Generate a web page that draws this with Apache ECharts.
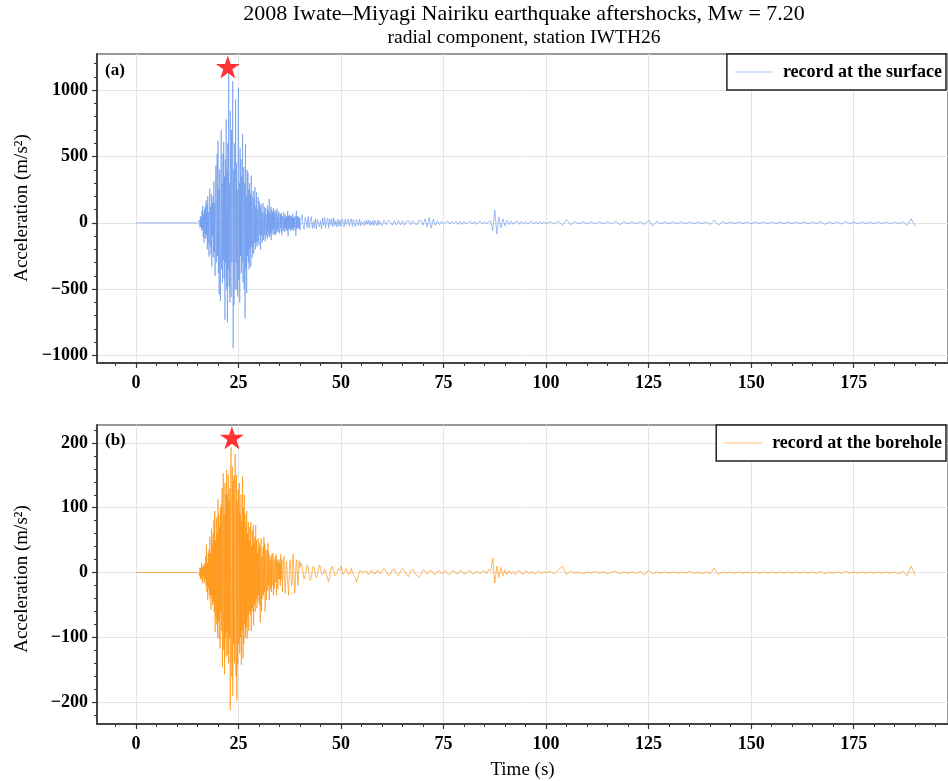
<!DOCTYPE html>
<html><head><meta charset="utf-8">
<script src="https://cdn.jsdelivr.net/npm/echarts@6/dist/echarts.min.js"></script>
<style>html,body{margin:0;padding:0;background:#fff}#chart{width:948px;height:781px}</style>
</head><body><div id="chart"></div>
<script>
const titleLines = ['2008 Iwate\u2013Miyagi Nairiku earthquake aftershocks, Mw = 7.20', 'radial component, station IWTH26'];
const surfaceName = 'record at the surface';
const boreholeName = 'record at the borehole';
const yName = 'Acceleration (m/s\u00B2)';
const xName = 'Time (s)';
const panelLabels = ['(a)', '(b)'];

const timeTicks = [0, 25, 50, 75, 100, 125, 150, 175];
const timeMinorTicks = [-5, 5, 10, 15, 20, 30, 35, 40, 45, 55, 60, 65, 70, 80, 85, 90, 95, 105, 110, 115, 120, 130, 135, 140, 145, 155, 160, 165, 170, 180, 185, 190, 195];
const surfaceTicks = [-1000, -500, 0, 500, 1000];
const surfaceMinorTicks = [-1000, -900, -800, -700, -600, -500, -400, -300, -200, -100, 0, 100, 200, 300, 400, 500, 600, 700, 800, 900, 1000, 1100, 1200];
const boreholeTicks = [-200, -100, 0, 100, 200];
const boreholeMinorTicks = [-220, -200, -180, -160, -140, -120, -100, -80, -60, -40, -20, 0, 20, 40, 60, 80, 100, 120, 140, 160, 180, 200, 220];

// record: flat from recordStart, then sampled segments [start time (s), sample step (s)]
const recordStart = 0;
const segStarts = [15, 40, 60, 100];
const segSteps = [0.1, 0.25, 0.5, 1];

// surface record, one row = 1 s at 0.1 s (15.0 - 39.9 s)
const surfaceS1 = [
  0, 0, 0, 0, 0, 20, -35, 50, -30, 40,
  -60, 90, -45, 130, -110, 70, -150, 100, -80, 120,
  -120, 170, -90, 140, -200, 200, -150, 80, -255, 180,
  257, -180, 120, -240, 220, -330, 150, -100, 200, -260,
  310, -220, 150, -400, 260, 430, -300, 180, 520, -250,
  620, -380, 250, -540, 400, -200, -590, 450, 700, -350,
  300, -455, 520, -280, 610, -420, 350, -730, 480, -300,
  780, -500, 400, -750, 600, -350, 1120, -480, 300, -600,
  845, -400, -560, 700, -300, 500, 1068, -945, 400, -620,
  600, -350, -500, 930, -300, 450, -505, 250, -555, 700,
  1017, -430, 300, -600, 560, -250, 480, -380, 350, -300,
  670, -450, 250, 420, -500, 300, -720, 595, -350, 200,
  -530, 400, -250, 380, -300, 250, -350, 300, -200, 220,
  -330, 357, -180, 200, -260, 150, 240, -230, 180, -150,
  270, -200, 120, -150, 230, -180, 100, -140, 195, -120,
  -170, 160, -90, 120, -205, 140, -100, 80, -150, 110,
  150, -130, 70, -90, 120, -140, 80, 110, -100, 60,
  -120, 130, -60, 90, -100, 180, -110, 70, -80, 120,
  -130, 100, -60, 80, -90, 110, -50, 70, -85, 95,
  -93, 60, 80, -75, 107, -50, 40, -70, 85, -60,
  -80, 70, -40, 60, -65, 75, -90, 50, 60, -60,
  80, -50, 40, -70, 65, -40, 50, -55, 45, -60,
  90, -100, 50, -40, 60, -50, 55, -60, 40, -45,
  50, -55, 70, -40, 35, -60, 45, -35, 50, -40,
  -100, 90, -50, 45, -40, 50, -35, 40, -45, 38
];
// 40 - 59.75 s at 0.25 s
const surfaceS2 = [
  -55, 30, 60, -20, -50, 40, 15, -35,
  48, -40, 20, 45, -42, 10, -38, 30,
  -45, 25, 40, -30, 15, -45, 35, -20,
  42, -38, 10, 35, -40, 28, -15, 32,
  -30, 36, -20, 15, -32, 30, -25, 20,
  -28, 30, 10, -32, 26, -15, -30, 28,
  -25, 12, 30, -27, 24, -10, -28, 25,
  18, -22, 26, -24, 10, 22, -20, 15,
  -18, 20, -10, 22, -20, 12, -16, 18,
  -22, 18, 8, -20, 22, -17, 10, 19
];
// 60 - 99.5 s at 0.5 s
const surfaceS3 = [
  -21, 18, -16, 20, 8, -18, 15, -17, 18, -15,
  16, -18, 10, 15, -14, 17, -8, -15, 20, 12,
  -18, 30, -30, 42, -40, 28, -20, 15, -14, 12,
  -12, 5, 13, -11, 12, -6, 12, -11, 10, -12,
  11, -10, 4, 12, -9, 11, -12, 6, 10, -9,
  11, -10, 9, 15, -60, 95, -85, 45, -38, 30,
  -25, 20, -15, 13, -12, 6, 11, -10, 12, -11,
  10, -9, 5, 11, -10, 9, -11, 10, -9, 10
];
// 100 - 190 s at 1 s
const surfaceS4 = [
  -8, 9, -10, 12, -20, 25, -15, 9, -8, 9,
  -8, 7, -8, 9, -7, 8, -9, 14, -15, 9,
  -7, 8, -7, 8, -12, 22, -25, 12, -8, 7,
  -6, 7, -6, 7, -6, 6, -7, 6, -6, 7,
  -12, 20, -18, 8, -6, 6, -5, 6, -5, 6,
  -6, 5, -5, 6, -5, 6, -5, 5, -6, 5,
  -5, 6, -5, 5, -6, 5, -6, 10, -12, 7,
  -6, 7, -10, 12, -7, 6, -6, 7, -6, 6,
  -6, 7, -6, 6, -7, 6, -7, 8, -20, 30,
  -25
];

// borehole record, same segments
const boreholeS1 = [
  0, 0, 0, 0, 3, -5, 8, -10, 6, -8,
  15, -12, 8, -17, 12, -6, 10, -15, 14, -10,
  25, -20, 43, -30, 15, -42, 30, -25, 35, -35,
  55, -40, 30, -57, 68, -35, 45, -50, 60, -45,
  80, -60, 95, -92, 50, -70, 85, -80, 60, -100,
  113, -75, 90, -102, 70, -117, 100, -60, 105, -90,
  130, -145, 80, 153, -120, 90, -157, 138, -100, 120,
  -130, 158, -90, 120, -127, 150, -140, 110, -100, 130,
  -212, 170, 193, -120, -160, 163, -190, 140, -110, 150,
  -140, 120, 183, -100, -160, 150, -197, 110, -142, 128,
  100, -110, 138, -125, 90, -100, 120, -142, 80, -90,
  148, -132, 100, -110, 120, -80, 90, -100, 70, -85,
  95, -102, 60, -70, 78, -90, 50, -60, 70, -65,
  78, -90, 40, -55, 65, -60, 73, -82, 45, -50,
  55, -60, 73, -40, 50, -55, 30, -45, 53, -35,
  40, -50, 45, -77, 35, 53, -60, 25, -40, 30,
  40, -35, 55, -30, 45, -60, 20, 35, -42, 25,
  35, -28, 45, -20, 30, -42, 15, 25, -25, 20,
  -30, 28, -20, 15, 30, -35, 10, 20, -25, 15,
  25, -15, 28, -35, 10, 20, -25, 15, -10, 20,
  -10, 15, -20, 28, -12, 10, 20, -30, -15, 5,
  20, 25, -10, -20, -32, -15, 10, 18, 8, -5,
  -15, -25, -35, -20, 5, 15, 20, 10, -5, -15,
  -20, -10, 15, 28, 20, 5, -20, -32, -25, -8,
  10, 20, 15, 5, -10, -20, -12, 5, 18, 12
];
const boreholeS2 = [
  8, 15, 10, -2, -10, -8, 2, 12,
  8, -5, -12, -8, 3, 10, 6, -4,
  -8, -5, 4, 12, 8, -3, -6, -2,
  5, 3, -4, -10, -14, -6, 5, 10,
  7, 2, -5, -8, -2, 6, 8, 3,
  10, 4, -3, -5, 2, 6, 4, -3,
  -6, -2, 7, 4, -3, -6, -8, -15,
  -10, -4, 2, 5, 3, -1, -3, 2,
  4, 2, -3, -5, -2, 3, 5, 2,
  -2, -4, -1, 3, 5, 2, -2, -4
];
const boreholeS3 = [
  3, 6, 2, -4, -3, 4, 5, -2, -5, 2,
  6, 3, -4, -6, 3, 5, -1, -5, -8, -3,
  4, 3, -3, 2, 3, -2, -3, 2, 3, -2,
  1, 3, -2, -3, 2, 3, -1, -2, 3, 2,
  -2, -1, 2, 3, -2, -2, 2, 1, -2, 2,
  3, -2, 5, 2, 22, -16, 10, -8, 8, -5,
  4, -3, 3, -2, 2, -3, 2, 3, -2, -2,
  2, 1, -2, 2, -1, -2, 2, 1, -2, 2
];
const boreholeS4 = [
  -1, 2, -2, 4, 10, -3, 2, -1, 1, -2,
  1, -1, 2, -1, 1, -2, 1, 2, -2, 1,
  -1, 1, -1, 2, -4, 4, -2, 1, -1, 1,
  -1, 1, -1, 1, -1, 2, -1, 1, -2, 1,
  -2, 7, -3, 1, -1, 1, -1, 1, -1, 1,
  -1, 1, -1, 1, -1, 1, -1, 1, -1, 1,
  -1, 1, -1, 1, -1, 1, -1, 2, -2, 1,
  -1, 1, -1, 2, -1, 1, -1, 1, -1, 1,
  -1, 1, -1, 1, -1, 1, -2, 2, -5, 10,
  -4
];
// peak markers [time, acceleration]
const surfacePeak = [22.4, 1175];
const boreholePeak = [23.4, 208];

function buildRecord(segments) {
  const out = [[recordStart, 0]];
  segments.forEach((seg, k) => seg.forEach((v, i) => out.push([+(segStarts[k] + i * segSteps[k]).toFixed(2), v])));
  return out;
}

const FONT = '"Liberation Serif", "Times New Roman", serif';
const STAR = 'path://M50,0 L61.8,35.4 L100,35.4 L69.1,57.3 L80.9,95.1 L50,72.4 L19.1,95.1 L30.9,57.3 L0,35.4 L38.2,35.4 Z';
const fmt = v => v < 0 ? '\u2212' + Math.abs(v) : String(v);

function xAxes(grid, withName) {
  return [{
    gridIndex: grid, type: 'value', min: -9.5, max: 198, position: 'bottom',
    name: withName ? xName : '', nameLocation: 'middle', nameGap: 37,
    nameTextStyle: { fontFamily: FONT, fontSize: 19, color: '#000' },
    axisLine: { show: true, onZero: false, lineStyle: { color: '#444', width: 2 } },
    axisTick: { show: true, customValues: timeTicks, length: 5, lineStyle: { color: '#333', width: 1.2 } },
    axisLabel: { show: true, customValues: timeTicks, fontFamily: FONT, fontWeight: 'bold', fontSize: 18, color: '#000', margin: 11, formatter: fmt },
    splitLine: { show: true, lineStyle: { color: '#e4e4e4', width: 1 } }
  }, {
    gridIndex: grid, type: 'value', min: -9.5, max: 198, position: 'bottom',
    axisLine: { show: false, onZero: false },
    axisTick: { show: true, customValues: timeMinorTicks, length: 3, lineStyle: { color: '#333', width: 1 } },
    axisLabel: { show: false }, splitLine: { show: false }
  }];
}
function yAxes(grid, min, max, ticks, minor) {
  return [{
    gridIndex: grid, type: 'value', min: min, max: max, position: 'left',
    axisLine: { show: true, onZero: false, lineStyle: { color: '#444', width: 2 } },
    axisTick: { show: true, customValues: ticks, length: 5, lineStyle: { color: '#333', width: 1.2 } },
    axisLabel: { show: true, customValues: ticks, fontFamily: FONT, fontWeight: 'bold', fontSize: 18, color: '#000', margin: 9, formatter: fmt },
    splitLine: { show: true, lineStyle: { color: '#e4e4e4', width: 1 } }
  }, {
    gridIndex: grid, type: 'value', min: min, max: max, position: 'left',
    axisLine: { show: false, onZero: false },
    axisTick: { show: true, customValues: minor, length: 3, lineStyle: { color: '#333', width: 1 } },
    axisLabel: { show: false }, splitLine: { show: false }
  }];
}
function legendFor(name, top, color) {
  return {
    data: [{ name: name, icon: 'rect', itemStyle: { color: color, opacity: 0.55 } }], right: 2, top: top, orient: 'horizontal',
    backgroundColor: '#fff', borderColor: '#222', borderWidth: 1.5, borderRadius: 0,
    padding: [9, 4, 9, 8], itemWidth: 38, itemHeight: 1.2,
    textStyle: { fontFamily: FONT, fontWeight: 'bold', fontSize: 18, color: '#000', padding: [0, 0, 0, 5] }
  };
}

const chart = echarts.init(document.getElementById('chart'), null, { renderer: 'canvas' });
chart.setOption({
  animation: false,
  backgroundColor: '#fff',
  grid: [
    { left: 97, top: 54, width: 851, height: 309, show: true, borderColor: '#777', borderWidth: 1.5, backgroundColor: 'transparent' },
    { left: 97, top: 425, width: 851, height: 308, show: true, borderColor: '#777', borderWidth: 1.5, backgroundColor: 'transparent' }
  ],
  xAxis: [...xAxes(0, false), ...xAxes(1, true)],
  yAxis: [...yAxes(0, -1057, 1273, surfaceTicks, surfaceMinorTicks), ...yAxes(1, -233.6, 227.6, boreholeTicks, boreholeMinorTicks)],
  legend: [legendFor(surfaceName, 54, '#6495ED'), legendFor(boreholeName, 425, '#FF8C00')],
  graphic: [
    { type: 'text', x: 524, y: 3, z: 100, style: { text: '{a|' + titleLines[0] + '}\n{b|' + titleLines[1] + '}', fill: '#000', align: 'center',
      rich: { a: { fontFamily: FONT, fontSize: 22, lineHeight: 23, fill: '#000' }, b: { fontFamily: FONT, fontSize: 19.5, lineHeight: 23, fill: '#000' } } } },
    { type: 'text', x: 105, y: 62, z: 100, style: { text: panelLabels[0], font: 'bold 17px ' + FONT, fill: '#000' } },
    { type: 'text', x: 105, y: 432, z: 100, style: { text: panelLabels[1], font: 'bold 17px ' + FONT, fill: '#000' } },
    { type: 'text', x: 22, y: 208, z: 100, rotation: Math.PI / 2, style: { text: yName, font: '19px ' + FONT, fill: '#000', align: 'center', verticalAlign: 'middle' } },
    { type: 'text', x: 22, y: 579, z: 100, rotation: Math.PI / 2, style: { text: yName, font: '19px ' + FONT, fill: '#000', align: 'center', verticalAlign: 'middle' } }
  ],
  series: [
    { name: surfaceName, type: 'line', xAxisIndex: 0, yAxisIndex: 0, data: buildRecord([surfaceS1, surfaceS2, surfaceS3, surfaceS4]),
      showSymbol: false, symbol: 'none', sampling: null, lineStyle: { color: '#6495ED', width: 0.7, opacity: 0.9 }, itemStyle: { color: '#6495ED' } },
    { type: 'scatter', xAxisIndex: 0, yAxisIndex: 0, data: [surfacePeak], symbol: STAR, symbolSize: [24, 23], itemStyle: { color: '#ff0000' }, z: 5 },
    { name: boreholeName, type: 'line', xAxisIndex: 2, yAxisIndex: 2, data: buildRecord([boreholeS1, boreholeS2, boreholeS3, boreholeS4]),
      showSymbol: false, symbol: 'none', sampling: null, lineStyle: { color: '#FF8C00', width: 0.7, opacity: 0.9 }, itemStyle: { color: '#FF8C00' } },
    { type: 'scatter', xAxisIndex: 2, yAxisIndex: 2, data: [boreholePeak], symbol: STAR, symbolSize: [24, 23], itemStyle: { color: '#ff0000' }, z: 5 }
  ]
});
</script>
</body></html>
